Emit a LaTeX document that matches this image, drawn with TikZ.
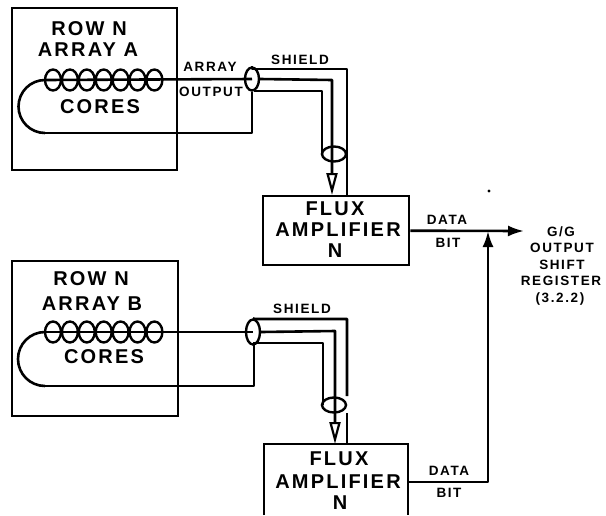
\documentclass[tikz,border=0pt]{standalone}
\usepackage{fontspec}
\setmainfont{Liberation Sans}
\newfontfamily\bigsp[LetterSpace=11]{Liberation Sans}
\newfontfamily\smallsp[LetterSpace=12]{Liberation Sans}
\usetikzlibrary{arrows.meta,shapes.geometric}
\tikzset{
 wire/.style={line width=2.6pt,line join=round},
 boxn/.style={draw,line width=2.4pt,inner sep=0pt,anchor=north west},
 big/.style={font=\fontsize{20}{20}\bigsp\bfseries,inner sep=0pt,align=center},
 small/.style={font=\fontsize{13.5}{13.5}\smallsp\bfseries,inner sep=0pt,align=center},
 shieldring/.style={draw,line width=2.4pt,ellipse,inner sep=0pt},
 core/.style={draw,line width=2.4pt,ellipse,minimum width=16pt,minimum height=21pt,inner sep=0pt},
 openhead/.style={-{Triangle[open,length=22pt,width=11pt,line width=2.2pt]}},
 solidhead/.style={-{Latex[length=16pt,width=11pt]}},
}
\begin{document}
\begin{tikzpicture}[x=1pt,y=-1pt]
\useasboundingbox (0,0) rectangle (606,515);
\fill[white] (0,0) rectangle (606,515);
% arrays
\node[boxn,minimum width=165pt,minimum height=162pt] (arrA) at (11,7) {};
\node[boxn,minimum width=166pt,minimum height=155pt] (arrB) at (11,260) {};
\node[big] (tA1) at (89,29) {ROW N};
\node[big] (tA2) at (88,50) {ARRAY A};
\node[big] (tB1) at (91,279) {ROW N};
\node[big] (tB2) at (92,304) {ARRAY B};
\node[big] (cA) at (100,107) {CORES};
\node[big] (cB) at (104,357) {CORES};
% amplifiers
\node[boxn,minimum width=146pt,minimum height=69pt] (ampA) at (262,195) {};
\draw[line width=2.4pt] (264,515) -- (264,444) -- (408,444) -- (408,515);
\node[big] (lA1) at (335,209) {FLUX};
\node[big] (lA2) at (338,230) {AMPLIFIER};
\node[big] (lA3) at (335,251) {N};
\node[big] (lB1) at (339,459) {FLUX};
\node[big] (lB2) at (338,482) {AMPLIFIER};
\node[big] (lB3) at (340,503) {N};
% cores
\foreach \i in {0,...,6} {
 \node[core] (ca\i) at ({53+\i*16.9},80) {};
 \node[core] (cb\i) at ({53+\i*16.9},332) {};
}
% shield rings
\node[shieldring,minimum width=14pt,minimum height=23pt] (rA) at (252,79) {};
\node[shieldring,minimum width=24pt,minimum height=15pt] (qA) at (334,154) {};
\node[shieldring,minimum width=14pt,minimum height=25pt] (rB) at (253,332) {};
\node[shieldring,minimum width=24pt,minimum height=15pt] (qB) at (334,405) {};
% core wires A
\coordinate (loopA) at (45,80);
\draw[wire] (loopA) -- (rA.center);
\draw[wire] (loopA) arc[start angle=90,end angle=270,radius=26.5pt];
\draw[wire] (45,133) -- (252,133) -- (rA.south);
% shield A
\draw[wire] (rA.north) -- (252,69) -- (347,69) -- (347,195);
\draw[wire,openhead] (rA.east) -- (332,80) -- (332,195);
\draw[wire] (254,91) -- (322,91) -- (322,154);
% core wires B
\coordinate (loopB) at (45,332);
\draw[wire] (loopB) -- (rB.center);
\draw[wire] (loopB) arc[start angle=90,end angle=270,radius=27pt];
\draw[wire] (45,386) -- (254,386) -- (254,342);
% shield B
\draw[wire] (rB.north) -- (255,319) -- (347,319) -- (347,396);
\draw[wire] (347,413) -- (347,444);
\draw[wire,openhead] (rB.east) -- (335,331) -- (335,444);
\draw[wire] (256,343) -- (323,343) -- (323,405);
% outputs
\coordinate (join) at (488,231);
\coordinate (out) at (524,231);
\draw[wire,solidhead] (ampA.east) -- (out);
\draw[wire,solidhead] (408,482) -- (488,482) -- (join);
% labels
\node[small] (l1) at (210,67) {ARRAY};
\node[small] (l2) at (211,92) {OUTPUT};
\node[small] (l3) at (300,60) {SHIELD};
\node[small] (l4) at (302,309) {SHIELD};
\node[small] (l5) at (447,220) {DATA};
\node[small] (l6) at (448,243) {BIT};
\node[small] (l7) at (449,471) {DATA};
\node[small] (l8) at (449,493) {BIT};
\node[small] (l91) at (561,232) {G/G};
\node[small] (l92) at (562,248) {OUTPUT};
\node[small] (l93) at (562,265) {SHIFT};
\node[small] (l94) at (561,281) {REGISTER};
\node[small] (l95) at (560,299) {(3.2.2)};
\fill (489,191) circle (1.6pt);
\end{tikzpicture}
\end{document}
